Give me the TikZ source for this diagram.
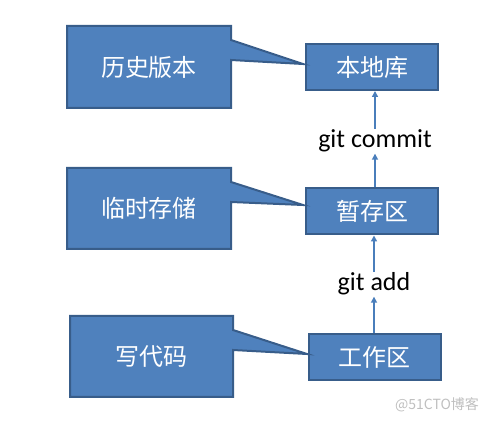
\documentclass[tikz,border=0pt]{standalone}
\usepackage{fontspec}
\setmainfont{Carlito}
\newfontfamily\cjk{Noto Sans CJK SC}
\usetikzlibrary{arrows.meta}
\definecolor{boxfill}{HTML}{4F81BD}
\definecolor{boxline}{HTML}{385D8A}
\definecolor{arrowc}{HTML}{4A7EBB}
\tikzset{
  x=1pt, y=-1pt,
  stagebox/.style={draw=boxline, fill=boxfill, line width=2pt, minimum width=132pt, minimum height=46pt, inner sep=0pt, font=\cjk\fontsize{24}{28}\selectfont, text=white},
  callout/.style={draw=boxline, fill=boxfill, line width=2pt, line join=miter},
  calltext/.style={font=\cjk\fontsize{24}{28}\selectfont, text=white, inner sep=0pt},
  gitlabel/.style={font=\fontsize{26}{30}\selectfont, inner sep=0pt, text=black},
  flow/.style={draw=arrowc, line width=1.5pt, -{Triangle[width=6pt,length=6pt]}},
}
\begin{document}
\begin{tikzpicture}
\useasboundingbox (0,0) rectangle (491,422);
% stage boxes
\node[stagebox] (repo) at (372,67) {本地库};
\node[stagebox] (stage) at (372,211.5) {暂存区};
\node[stagebox] (work) at (374.5,357) {工作区};
% callouts
\draw[callout] (67,26) -- (231,26) -- (231,40) -- (303,64) -- (231,60) -- (231,108) -- (67,108) -- cycle;
\node[calltext] (c1) at (149,67) {历史版本};
\draw[callout] (67,168) -- (231,168) -- (231,182) -- (303,205) -- (231,202) -- (231,249) -- (67,249) -- cycle;
\node[calltext] (c2) at (149,208.5) {临时存储};
\draw[callout] (70,316) -- (233,316) -- (233,330) -- (307,354) -- (233,350) -- (233,397) -- (70,397) -- cycle;
\node[calltext] (c3) at (151.5,356.5) {写代码};
% labels
\node[gitlabel, anchor=base] (commit) at (375,148) {git commit};
\node[gitlabel, anchor=base] (add) at (374,291) {git add};
% arrows
\draw[flow] (commit.south |- stage.north) -- ([yshift=-1pt]commit.south);
\draw[flow] ([yshift=1pt]commit.north) -- (commit.north |- repo.south);
\draw[flow] (add.south |- work.north) -- ([yshift=-1pt]add.south);
\draw[flow] ([yshift=1pt]add.north) -- (add.north |- stage.south);
% watermark
\node[font=\cjk\fontsize{14}{16}\selectfont, text=black!25, inner sep=0pt] (wm) at (437,405) {@51CTO博客};
\end{tikzpicture}
\end{document}
